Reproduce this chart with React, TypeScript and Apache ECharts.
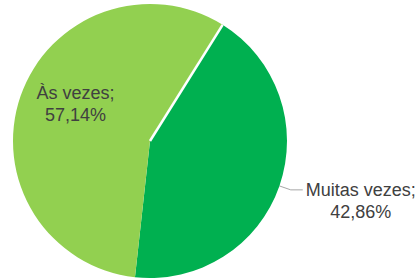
import React, { useEffect, useRef } from "react";
import * as echarts from "echarts";

const categories = ["Muitas vezes", "Às vezes"];
const values = [42.86, 57.14];
const colors = ["#00B050", "#92D050"];

const W = 419;
const H = 278;
const CX = 150;
const CY = 141;
const R = 137;
const START = 58;

export default function App() {
  const ref = useRef<HTMLDivElement>(null);
  useEffect(() => {
    document.body.style.margin = "0";
    if (!ref.current) return;
    const chart = echarts.init(ref.current, null, { renderer: "svg" });
    const fmt = (v: number) => v.toFixed(2).replace(".", ",") + "%";
    const a = (START * Math.PI) / 180;
    chart.setOption({
      animation: false,
      backgroundColor: "#ffffff",
      textStyle: { fontFamily: "Liberation Sans, Arial, sans-serif" },
      series: [
        {
          type: "pie",
          center: [CX, CY],
          radius: R,
          startAngle: START,
          clockwise: true,
          avoidLabelOverlap: false,
          silent: true,
          data: categories.map((c, i) => ({
            name: c,
            value: values[i],
            itemStyle: { color: colors[i] },
            label:
              i === 1
                ? { position: "inside", padding: 0 }
                : { position: "outside" },
            labelLine: i === 1 ? { show: false } : { show: true },
          })),
          label: {
            show: true,
            formatter: (p: any) =>
              `{t|${p.name};}\n{t|${fmt(p.value)}}`,
            color: "#404040",
            fontSize: 18,
            fontFamily: "Liberation Sans, Arial, sans-serif",
            padding: [22, 0, 0, 0],
            distanceToLabelLine: 3,
            rich: {
              t: {
                align: "center",
                fontSize: 18,
                lineHeight: 22,
                color: "#404040",
                fontFamily: "Liberation Sans, Arial, sans-serif",
              },
            },
          },
          labelLine: {
            length: 12,
            length2: 12,
            lineStyle: { color: "#A6A6A6", width: 1 },
          },
          labelLayout: (p: any) =>
            p.dataIndex === 1 ? { dx: -7, dy: -14 } : {},
        },
      ],
      graphic: [
        {
          type: "line",
          silent: true,
          z: 100,
          shape: {
            x1: CX,
            y1: CY,
            x2: CX + R * Math.cos(a),
            y2: CY - R * Math.sin(a),
          },
          style: { stroke: "#ffffff", lineWidth: 2.5 },
        },
      ],
    });
    return () => chart.dispose();
  }, []);
  return <div ref={ref} style={{ width: W, height: H }} />;
}
